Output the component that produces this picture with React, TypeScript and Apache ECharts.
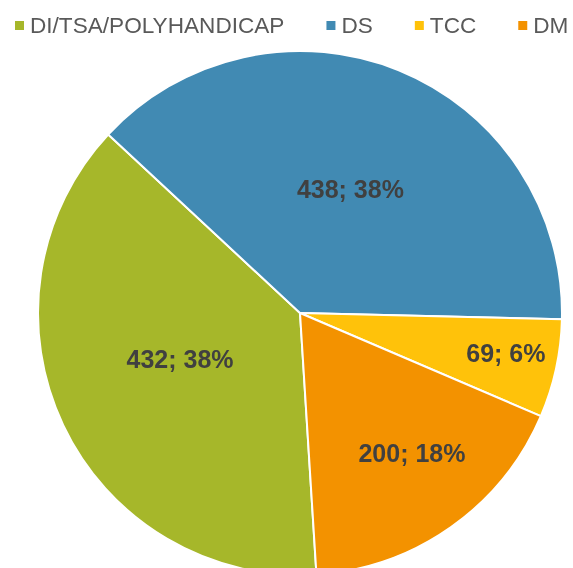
import React, { useEffect, useRef } from "react";
import * as echarts from "echarts";

const categories = ["DI/TSA/POLYHANDICAP", "DS", "TCC", "DM"];
const values = [432, 438, 69, 200];
const colors = ["#A6B72A", "#418AB3", "#FFC20A", "#F39200"];

// label placement (Excel "best fit" look): radial factor and angle tweak
const labelRadiusFactor = [0.49, 0.51, 0.8, 0.685];
const labelAngleShift = [4.5, 0, -1.4, -3.4];

const CENTER: [number, number] = [300, 313];
const RADIUS = 262;
const START_ANGLE = -86.4; // echarts: ccw from 3 o'clock

export default function App() {
  const ref = useRef<HTMLDivElement>(null);
  useEffect(() => {
    if (!ref.current) return;
    const chart = echarts.init(ref.current, null, { renderer: "svg" });
    const total = values.reduce((a, b) => a + b, 0);
    const startCw = 90 - START_ANGLE; // clockwise from 12 o'clock
    const mids: number[] = [];
    let acc = startCw;
    values.forEach((v) => {
      const span = (v / total) * 360;
      mids.push(acc + span / 2);
      acc += span;
    });
    chart.setOption({
      animation: false,
      color: colors,
      legend: {
        data: categories,
        left: 13,
        top: 14,
        width: 700,
        padding: 0,
        itemGap: 40,
        itemWidth: 11,
        itemHeight: 11,
        icon: "rect",
        textStyle: {
          fontFamily: "Liberation Sans, Arial, sans-serif",
          fontSize: 22.6,
          color: "#595959",
        },
      },
      series: [
        {
          type: "pie",
          center: CENTER,
          radius: RADIUS,
          startAngle: START_ANGLE,
          clockwise: true,
          avoidLabelOverlap: false,
          itemStyle: { borderColor: "#ffffff", borderWidth: 2 },
          label: {
            show: true,
            position: "inside",
            fontFamily: "Liberation Sans, Arial, sans-serif",
            fontSize: 25,
            fontWeight: "bold",
            color: "#404040",
            formatter: (p: any) => `${p.value}; ${Math.round(p.percent)}%`,
          },
          labelLine: { show: false },
          labelLayout: (params: any) => {
            const i = params.dataIndex;
            const ang = ((mids[i] + labelAngleShift[i]) * Math.PI) / 180;
            const r = RADIUS * labelRadiusFactor[i];
            return {
              x: CENTER[0] + r * Math.sin(ang),
              y: CENTER[1] - r * Math.cos(ang),
              align: "center",
              verticalAlign: "middle",
            };
          },
          emphasis: { disabled: true },
          data: categories.map((name, i) => ({ name, value: values[i] })),
        },
      ],
    });
    return () => chart.dispose();
  }, []);
  return (
    <div
      ref={ref}
      style={{ position: "fixed", left: 0, top: 0, width: 573, height: 568 }}
    />
  );
}
